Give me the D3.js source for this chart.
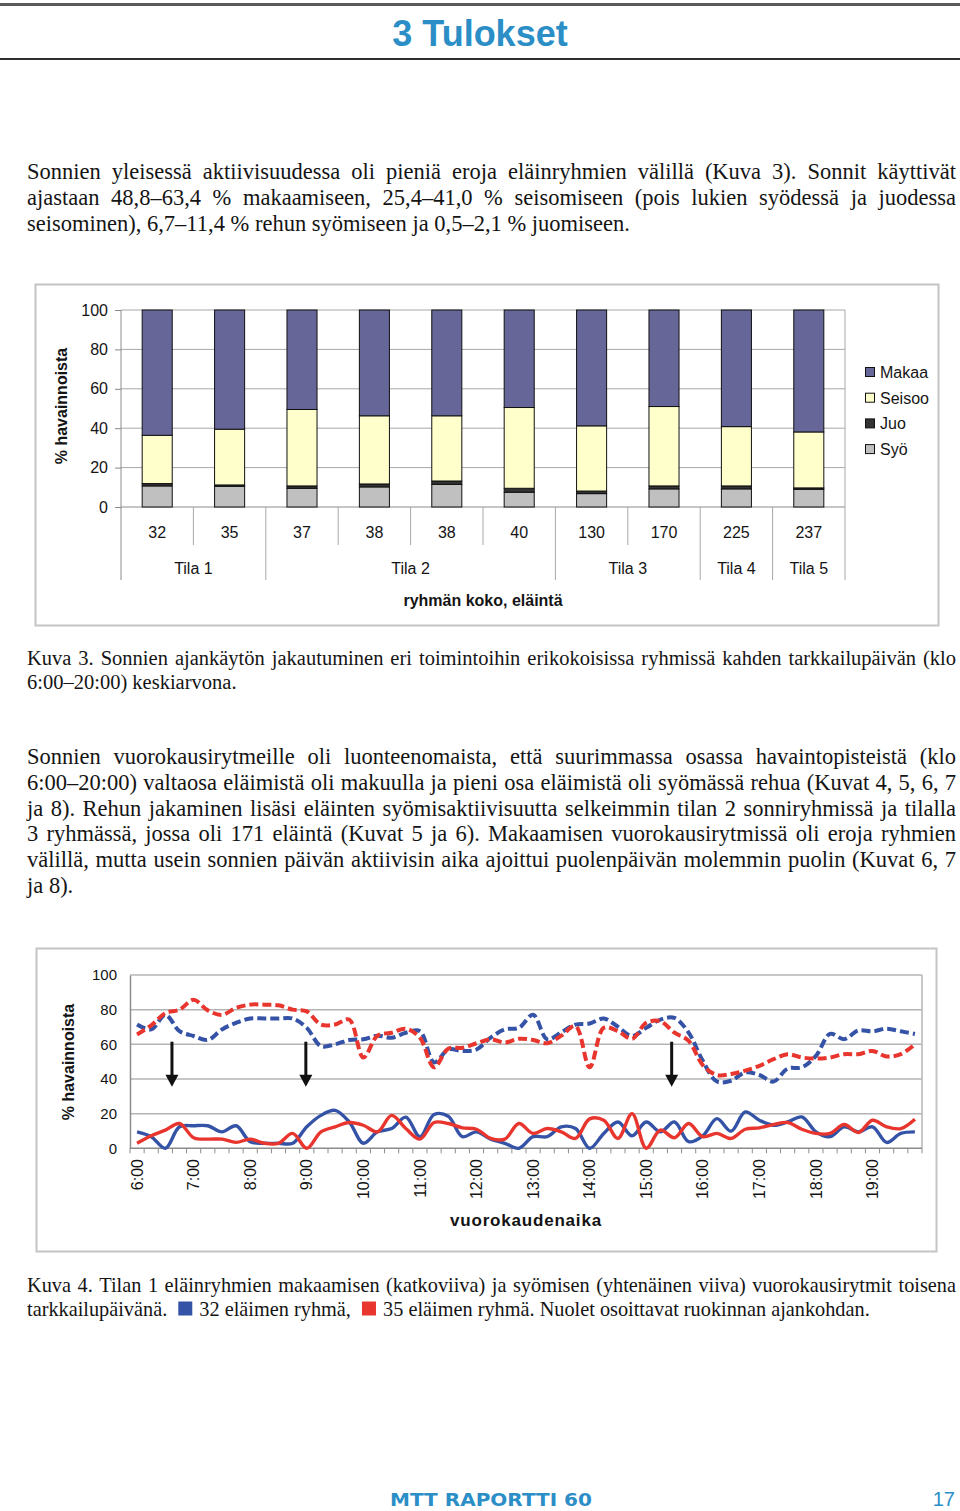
<!DOCTYPE html>
<html><head><meta charset="utf-8">
<script src="https://cdn.jsdelivr.net/npm/d3@7/dist/d3.min.js"></script>
<style>
body{margin:0;background:#fff;}
#page{position:relative;width:960px;height:1511px;overflow:hidden;background:#fff;}
svg{position:absolute;left:0;top:0;}
</style></head>
<body><div id="page"><svg id="svg" width="960" height="1511"></svg></div>
<script>
// ---------------- DATA ----------------
// Bar chart (Kuva 3)
const groupSizes = ["32","35","37","38","38","40","130","170","225","237"];
const farms = ["Tila 1","Tila 1","Tila 2","Tila 2","Tila 2","Tila 2","Tila 3","Tila 3","Tila 4","Tila 5"];
const syo    = [10.7,10.5, 9.5,10.2,11.5, 7.5, 6.8, 9.2, 9.2, 9.0];
const juo    = [ 1.2, 0.7, 1.2, 1.5, 1.7, 2.0, 1.3, 1.5, 1.5, 0.7];
const seisoo = [24.5,28.3,38.8,34.6,33.1,41.0,33.1,40.3,30.1,28.4];
const makaa  = [63.6,60.5,50.5,53.7,53.7,49.5,58.8,49.0,59.2,61.9];
const barSeries = ["Syö","Juo","Seisoo","Makaa"];
const legendOrder = ["Makaa","Seisoo","Juo","Syö"];
const barTicks = [0,20,40,60,80,100];

// Line chart (Kuva 4)
const times = ["6:00","6:15","6:30","6:45","7:00","7:15","7:30","7:45","8:00","8:15","8:30","8:45",
 "9:00","9:15","9:30","9:45","10:00","10:15","10:30","10:45","11:00","11:15","11:30","11:45",
 "12:00","12:15","12:30","12:45","13:00","13:15","13:30","13:45","14:00","14:15","14:30","14:45",
 "15:00","15:15","15:30","15:45","16:00","16:15","16:30","16:45","17:00","17:15","17:30","17:45",
 "18:00","18:15","18:30","18:45","19:00","19:15","19:30","19:45"];
const hourLabels = ["6:00","7:00","8:00","9:00","10:00","11:00","12:00","13:00","14:00","15:00","16:00","17:00","18:00","19:00"];
const makaa32 = [71.4,68.6,77,67.6,64.8,62.5,68.6,72.4,74.9,74.9,74.9,74.9,69.5,59,60,62.5,62.9,65,63.8,66.7,
 67.6,49.5,57,56.2,57,63.8,68.6,69.5,77.1,62.9,67,71.4,72,74.9,70.1,64.8,69.5,74.3,75.2,66.7,
 50.5,38.5,39,43.8,42.3,38.5,46,46.7,53.3,66,63,68,67.5,69,67.5,66];
const makaa35 = [65.7,70.9,78,80,85.7,79.6,77,81,82.9,82.9,82.5,80,79,71.4,71.4,74.3,52.4,65,66.7,69,
 63.8,46.7,57.5,58,60.6,62.9,61,63.2,62.5,60.6,65,70.5,46.7,69.5,67.6,63.2,72.4,73.3,66.7,62,
 48,42.3,42.9,44.8,47.6,51.4,54.3,52.4,51.8,52.4,54.3,54.3,56.2,53,54.3,60];
const syo32 = [9.5,6.7,0,12.4,13,13,9.5,13,3.8,2.9,2.9,2.9,12.4,19,21.9,15.2,2.9,9.5,11.4,18,
 6.7,19.5,18.5,6.7,9.5,5.3,2.9,0,6.7,6.7,12.4,11.4,0,8.6,15.2,7.2,15.2,9.5,15.2,3.8,
 7.2,17.1,9.9,21,16.2,13.3,15.2,18.1,9.5,6.7,12.4,9.5,12.4,3.4,8.6,9.5];
const syo35 = [2.9,7.2,10.5,14.3,6.1,5.3,5.3,3.4,5.3,2.9,2.9,8.6,0,9.5,12.4,14.9,13.3,9.5,19,11.4,
 5.3,14.9,14.3,11.8,11,5.7,5.3,14.3,8.6,11.4,9.5,5.7,17,16.2,5.7,20,0,10.5,6.1,14.3,
 6.7,8.6,5.7,11,11.8,13.7,14.9,11,8.6,8.6,13.7,9.1,16.2,12.4,11.4,16.8];
const feedTimes = ["6:37","8:59","15:27"];
const lineTicks = [0,20,40,60,80,100];

// Texts
const para1 = [
 {t:"Sonnien yleisessä aktiivisuudessa oli pieniä eroja eläinryhmien välillä (Kuva 3). Sonnit käyttivät", j:true},
 {t:"ajastaan 48,8–63,4 % makaamiseen, 25,4–41,0 % seisomiseen (pois lukien syödessä ja juodessa", j:true},
 {t:"seisominen), 6,7–11,4 % rehun syömiseen ja 0,5–2,1 % juomiseen.", j:false}];
const caption3 = [
 {t:"Kuva 3. Sonnien ajankäytön jakautuminen eri toimintoihin erikokoisissa ryhmissä kahden tarkkailupäivän (klo", j:true},
 {t:"6:00–20:00) keskiarvona.", j:false}];
const para2 = [
 {t:"Sonnien vuorokausirytmeille oli luonteenomaista, että suurimmassa osassa havaintopisteistä (klo", j:true},
 {t:"6:00–20:00) valtaosa eläimistä oli makuulla ja pieni osa eläimistä oli syömässä rehua (Kuvat 4, 5, 6, 7", j:true},
 {t:"ja 8). Rehun jakaminen lisäsi eläinten syömisaktiivisuutta selkeimmin tilan 2 sonniryhmissä ja tilalla", j:true},
 {t:"3 ryhmässä, jossa oli 171 eläintä (Kuvat 5 ja 6). Makaamisen vuorokausirytmissä oli eroja ryhmien", j:true},
 {t:"välillä, mutta usein sonnien päivän aktiivisin aika ajoittui puolenpäivän molemmin puolin (Kuvat 6, 7", j:true},
 {t:"ja 8).", j:false}];
const caption4 = [
 {t:"Kuva 4. Tilan 1 eläinryhmien makaamisen (katkoviiva) ja syömisen (yhtenäinen viiva) vuorokausirytmit toisena", j:true},
 {t:"tarkkailupäivänä. [B] 32 eläimen ryhmä, [R] 35 eläimen ryhmä. Nuolet osoittavat ruokinnan ajankohdan.", j:false}];

// ---------------- STYLE ----------------
const SERIF = '"Liberation Serif","Times New Roman",serif';
const SANS = '"Liberation Sans",Arial,sans-serif';
const TITLE_BLUE = '#2b8ec6';
const BLUE = '#3553a6', RED = '#e8352e';
const TXT = '#141414';
const barColors = {"Makaa":"#666699","Seisoo":"#ffffcc","Juo":"#333333","Syö":"#c0c0c0"};

const svg = d3.select('#svg');

// ---------------- HEADER ----------------
svg.append('rect').attr('x',0).attr('y',3).attr('width',960).attr('height',3).attr('fill','#5a5a5a');
svg.append('rect').attr('x',0).attr('y',58).attr('width',960).attr('height',2).attr('fill','#2e2e2e');
svg.append('text').attr('x',480).attr('y',46).attr('text-anchor','middle')
  .attr('font-family',SANS).attr('font-weight','bold').attr('font-size',36).attr('fill',TITLE_BLUE)
  .text('3 Tulokset');

// ---------------- PARAGRAPHS ----------------
function para(lines, x, y0, lh, width, fs) {
  lines.forEach((ln, k) => {
    const y = y0 + k*lh;
    const g = svg.append('g');
    const items = ln.t.split(' ').map(tok => {
      if (tok === '[B]' || tok === '[R]') return {sq: tok === '[B]' ? BLUE : RED, w: 14};
      const t = g.append('text').attr('y', y).attr('font-family', SERIF).attr('font-size', fs)
        .attr('fill', TXT).text(tok);
      return {t, w: t.node().getComputedTextLength()};
    });
    const total = d3.sum(items, d => d.w);
    const gap = ln.j ? (width - total) / (items.length - 1) : fs*0.25;
    let cx = x;
    items.forEach(it => {
      if (it.t) { it.t.attr('x', cx); cx += it.w + gap; }
      else {
        g.append('rect').attr('x', cx + 6).attr('y', y - 14).attr('width', 14).attr('height', 14).attr('fill', it.sq);
        cx += 6 + 14 + 2 + gap;
      }
    });
  });
}
para(para1, 27, 179, 26, 929, 22.5);
para(caption3, 27, 665, 24, 929, 20.5);
para(para2, 27, 764, 25.8, 929, 22.5);
para(caption4, 27, 1292, 23.5, 929, 20.3);

// ---------------- BAR CHART ----------------
{
  svg.append('rect').attr('x',35.5).attr('y',284.5).attr('width',903).attr('height',341)
    .attr('fill','#fff').attr('stroke','#c4c4c4').attr('stroke-width',2);
  const X0 = 121, X1 = 845, Y0 = 507, Y1 = 310;
  const y = d3.scaleLinear().domain([0,100]).range([Y0, Y1]);
  const idx = d3.range(groupSizes.length);
  const x = d3.scaleBand().domain(idx).range([X0, X1]).paddingInner(0.585).paddingOuter(0.2925);
  const step = x.step();
  const g = svg.append('g');
  g.selectAll('.grid').data(barTicks.filter(d => d > 0)).join('line')
    .attr('x1', X0).attr('x2', X1).attr('y1', d => y(d)).attr('y2', d => y(d))
    .attr('stroke', '#a8a8a8').attr('stroke-width', 1);
  const ax = g.append('g').attr('transform', `translate(${X0},0)`)
    .call(d3.axisLeft(y).tickValues(barTicks).tickSize(6).tickPadding(7));
  ax.select('.domain').remove();
  ax.selectAll('line').attr('stroke', '#888');
  ax.selectAll('text').attr('font-family', SANS).attr('font-size', 16).attr('fill', TXT);
  g.append('line').attr('x1', X0).attr('x2', X0).attr('y1', Y1).attr('y2', 580).attr('stroke', '#8c8c8c');
  g.append('line').attr('x1', X1).attr('x2', X1).attr('y1', Y1).attr('y2', 580).attr('stroke', '#a8a8a8');
  g.append('line').attr('x1', X0).attr('x2', X1).attr('y1', Y0).attr('y2', Y0).attr('stroke', '#8c8c8c');
  idx.slice(1).forEach(i => {
    const bx = X0 + i*step;
    const grp = farms[i] !== farms[i-1];
    g.append('line').attr('x1', bx).attr('x2', bx).attr('y1', Y0).attr('y2', grp ? 580 : 545)
      .attr('stroke', '#a8a8a8');
  });
  const rows = idx.map(i => ({i, "Syö": syo[i], "Juo": juo[i], "Seisoo": seisoo[i], "Makaa": makaa[i]}));
  const stack = d3.stack().keys(barSeries)(rows);
  stack.forEach(layer => {
    g.selectAll(null).data(layer).join('rect')
      .attr('x', d => x(d.data.i)).attr('width', x.bandwidth())
      .attr('y', d => y(d[1])).attr('height', d => y(d[0]) - y(d[1]))
      .attr('fill', barColors[layer.key]).attr('stroke', '#111').attr('stroke-width', 1);
  });
  g.selectAll('.cl').data(idx).join('text')
    .attr('x', i => x(i) + x.bandwidth()/2).attr('y', 538).attr('text-anchor', 'middle')
    .attr('font-family', SANS).attr('font-size', 16).attr('fill', TXT).text(i => groupSizes[i]);
  const farmNames = Array.from(new Set(farms));
  farmNames.forEach(f => {
    const ii = idx.filter(i => farms[i] === f);
    const cx = X0 + (d3.min(ii) + d3.max(ii) + 1) / 2 * step;
    g.append('text').attr('x', cx).attr('y', 574).attr('text-anchor', 'middle')
      .attr('font-family', SANS).attr('font-size', 16).attr('fill', TXT).text(f);
  });
  g.append('text').attr('x', (X0+X1)/2).attr('y', 606).attr('text-anchor', 'middle')
    .attr('font-family', SANS).attr('font-size', 16).attr('font-weight', 'bold').attr('fill', TXT)
    .text('ryhmän koko, eläintä');
  g.append('text').attr('transform', 'translate(67,406) rotate(-90)').attr('text-anchor', 'middle')
    .attr('font-family', SANS).attr('font-size', 16).attr('font-weight', 'bold').attr('fill', TXT)
    .text('% havainnoista');
  legendOrder.forEach((k, j) => {
    const ly = 372 + j*25.7;
    g.append('rect').attr('x', 865.5).attr('y', ly - 4.5).attr('width', 9).attr('height', 9)
      .attr('fill', barColors[k]).attr('stroke', '#111').attr('stroke-width', 1);
    g.append('text').attr('x', 880).attr('y', ly + 6).attr('font-family', SANS).attr('font-size', 16)
      .attr('fill', TXT).text(k);
  });
}

// ---------------- LINE CHART ----------------
{
  svg.append('rect').attr('x',36.5).attr('y',948.5).attr('width',900).attr('height',303)
    .attr('fill','#fff').attr('stroke','#c4c4c4').attr('stroke-width',2);
  const X0 = 130, X1 = 922, Y0 = 1148.3, Y1 = 975;
  const y = d3.scaleLinear().domain([0,100]).range([Y0, Y1]);
  const x = d3.scaleBand().domain(times).range([X0, X1]).padding(0);
  const step = x.step();
  const cx = t => x(t) + step/2;
  const toMin = s => { const [h,m] = s.split(':').map(Number); return h*60 + m; };
  const xt = d3.scaleLinear().domain([toMin(times[0]) - 7.5, toMin(times[times.length-1]) + 7.5]).range([X0, X1]);
  const g = svg.append('g');
  g.selectAll('.grid').data(lineTicks.filter(d => d > 0)).join('line')
    .attr('x1', X0).attr('x2', X1).attr('y1', d => y(d)).attr('y2', d => y(d))
    .attr('stroke', '#b4b4b4').attr('stroke-width', 1.5);
  g.append('line').attr('x1', X1).attr('x2', X1).attr('y1', Y1).attr('y2', Y0).attr('stroke', '#b4b4b4').attr('stroke-width', 1.5);
  const ay = g.append('g').attr('transform', `translate(${X0},0)`)
    .call(d3.axisLeft(y).tickValues(lineTicks).tickSize(0).tickPadding(13));
  ay.select('.domain').attr('stroke', '#8c8c8c').attr('stroke-width', 1.5);
  ay.selectAll('text').attr('font-family', SANS).attr('font-size', 15).attr('fill', TXT);
  g.append('line').attr('x1', X0).attr('x2', X1).attr('y1', Y0).attr('y2', Y0).attr('stroke', '#8c8c8c').attr('stroke-width', 1.5);
  g.selectAll('.tk').data(d3.range(times.length + 1)).join('line')
    .attr('x1', i => X0 + i*step).attr('x2', i => X0 + i*step).attr('y1', Y0).attr('y2', Y0 + 5)
    .attr('stroke', '#8c8c8c');
  g.selectAll('.xl').data(hourLabels).join('text')
    .attr('transform', d => `translate(${cx(d)},1159) rotate(-90)`)
    .attr('text-anchor', 'end').attr('dy', '0.35em')
    .attr('font-family', SANS).attr('font-size', 16).attr('fill', TXT).text(d => d);
  g.append('text').attr('x', (X0+X1)/2).attr('y', 1226).attr('text-anchor', 'middle')
    .attr('font-family', SANS).attr('font-size', 17).attr('font-weight', 'bold').attr('letter-spacing', 0.8)
    .attr('fill', TXT).text('vuorokaudenaika');
  g.append('text').attr('transform', 'translate(74,1062) rotate(-90)').attr('text-anchor', 'middle')
    .attr('font-family', SANS).attr('font-size', 16).attr('font-weight', 'bold').attr('fill', TXT)
    .text('% havainnoista');

  const line = d3.line().x((d, i) => cx(times[i])).y(d => y(d)).curve(d3.curveCatmullRom.alpha(0.5));
  const series = [
    {v: makaa32, c: BLUE, dash: true},
    {v: makaa35, c: RED, dash: true},
    {v: syo32, c: BLUE, dash: false},
    {v: syo35, c: RED, dash: false}];
  series.forEach(s => {
    g.append('path').attr('d', line(s.v)).attr('fill', 'none').attr('stroke', s.c)
      .attr('stroke-width', s.dash ? 4 : 3.4).attr('stroke-dasharray', s.dash ? '9,4' : null)
      .attr('stroke-linejoin', 'round');
  });
  feedTimes.forEach(ft => {
    const ax = xt(toMin(ft));
    const top = y(61.5), tip = y(35.5);
    g.append('line').attr('x1', ax).attr('x2', ax).attr('y1', top).attr('y2', tip - 10)
      .attr('stroke', '#111').attr('stroke-width', 3);
    g.append('path').attr('d', `M${ax-6.5},${tip-12}L${ax+6.5},${tip-12}L${ax},${tip}Z`).attr('fill', '#111');
  });
}

// ---------------- FOOTER ----------------
svg.append('text').attr('x', 390).attr('y', 1506).attr('font-family', '"DejaVu Sans",sans-serif')
  .attr('font-weight', 'bold').attr('font-size', 18).attr('fill', TITLE_BLUE)
  .attr('textLength', 202).attr('lengthAdjust', 'spacingAndGlyphs').text('MTT RAPORTTI 60');
svg.append('text').attr('x', 955).attr('y', 1506).attr('text-anchor', 'end').attr('font-family', SANS)
  .attr('font-size', 20).attr('fill', TITLE_BLUE).text('17');
</script></body></html>
